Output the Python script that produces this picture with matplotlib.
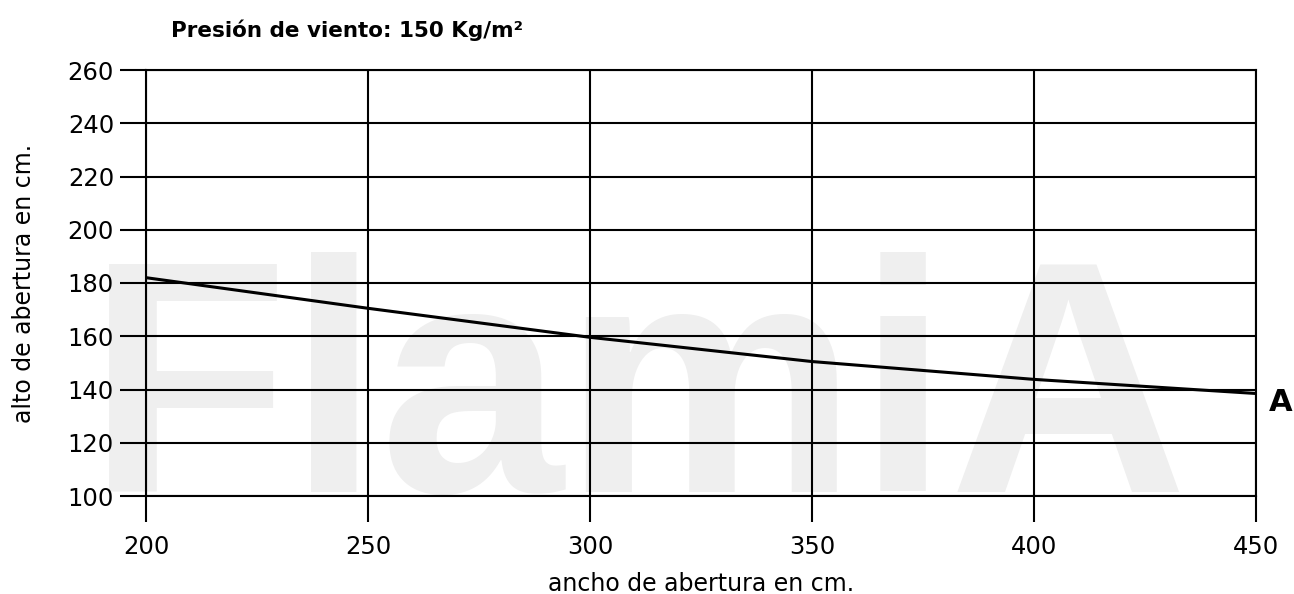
import matplotlib
matplotlib.use("Agg")
import matplotlib.pyplot as plt

# Data
ancho = [200, 250, 300, 350, 400, 450]
alto_A = [182, 170.5, 159.6, 150.5, 143.8, 138.5]
x_ticks = [200, 250, 300, 350, 400, 450]
y_ticks = [100, 120, 140, 160, 180, 200, 220, 240, 260]

plt.rcParams['font.family'] = ['DejaVu Sans']

W, H = 1294, 594
fig = plt.figure(figsize=(W/100, H/100), dpi=100)
ax = fig.add_axes([146/W, 1-496/H, (1256-146)/W, (496-70)/H])

# watermark (behind grid)
ax.text(-0.053, 0.0094, "FlamiA", transform=ax.transAxes, fontsize=238, color="#efefef",
        fontweight="bold", ha="left", va="baseline", zorder=0.5, clip_on=False,
        family="Liberation Sans")

ax.plot(ancho, alto_A, color="black", lw=2.2, zorder=3)
ax.set_xlim(200, 450)
ax.set_ylim(100, 260)
ax.set_xticks(x_ticks)
ax.set_yticks(y_ticks)
ax.set_axisbelow(False)
ax.grid(True, color="black", lw=1.5, zorder=2)
for s in ax.spines.values():
    s.set_linewidth(1.5)
ax.tick_params(axis='both', direction='out', length=19, width=1.5, labelsize=17.5)
ax.tick_params(axis='x', pad=9)
ax.tick_params(axis='y', pad=4)

ax.set_xlabel("ancho de abertura en cm.", fontsize=17)
ax.set_ylabel("alto de abertura en cm.", fontsize=17)
ax.xaxis.set_label_coords(0.5, (496-572)/426)
ax.yaxis.set_label_coords((36-146)/1110, 0.5)
fig.text(171/W, 1-30/H, "Presión de viento: 150 Kg/m²",
         fontsize=15.5, fontweight="bold", ha="left", va="center")
ax.text(1.012, (135-100)/160, "A", transform=ax.transAxes, fontsize=22,
        fontweight="bold", ha="left", va="center")

fig.savefig("out.png", dpi=100)
